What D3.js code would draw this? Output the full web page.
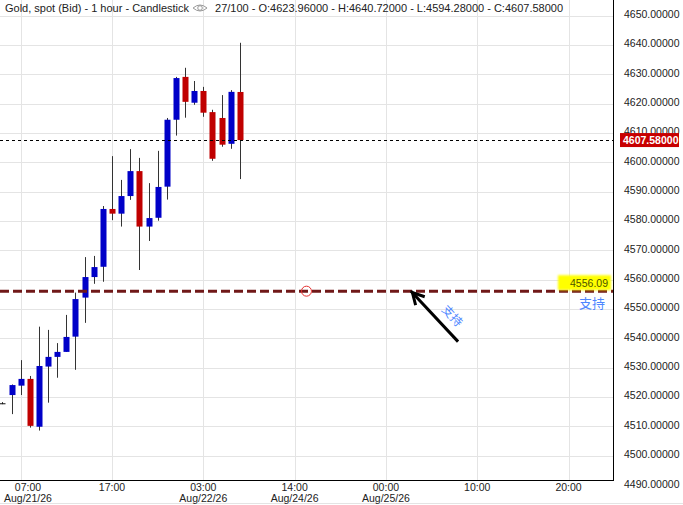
<!DOCTYPE html>
<html><head><meta charset="utf-8">
<script src="https://cdn.jsdelivr.net/npm/d3@7/dist/d3.min.js"></script>
<style>body{margin:0;background:#fff;}svg{display:block;font-family:Arial,"Liberation Sans",sans-serif;}</style>
</head><body><svg id="c" width="683" height="505"></svg>
<script>
// ---- data ----
const barIndex = [-2,-1,0,1,2,3,4,5,6,7,8,9,10,11,12,13,14,15,16,17,18,19,20,21,22,23,24];
const opens  = [4517.9,4520.7,4523.9,4526.2,4509.9,4530.4,4533.7,4535.4,4540.6,4553.9,4560.9,4564.4,4584.1,4582.5,4588.5,4597.0,4578.1,4581.1,4591.7,4614.5,4629.1,4620.3,4624.3,4617.1,4615.1,4606.3,4623.96];
const highs  = [4518.3,4524.3,4532.6,4527.2,4544.0,4542.9,4538.4,4548.0,4555.6,4567.7,4568.1,4585.1,4602.1,4594.0,4604.5,4601.5,4592.9,4603.9,4615.1,4629.1,4632.2,4627.7,4625.7,4617.9,4622.9,4624.6,4640.72];
const lows   = [4517.6,4514.2,4520.7,4509.6,4508.6,4518.1,4526.6,4535.4,4529.3,4545.3,4558.6,4559.3,4580.3,4578.1,4587.2,4563.3,4573.2,4580.1,4587.3,4609.1,4615.2,4619.6,4615.5,4600.5,4605.3,4604.6,4594.28];
const closes = [4517.9,4524.1,4526.2,4510.2,4530.6,4533.7,4535.4,4540.5,4553.4,4560.9,4564.3,4584.1,4582.5,4588.5,4597.0,4578.1,4581.0,4591.6,4614.5,4628.7,4620.6,4624.3,4616.9,4601.2,4606.0,4624.0,4607.58];
const tickIdx   = [0,10,20,30,40,50,60];
const tickTime  = ["07:00","17:00","03:00","14:00","00:00","10:00","20:00"];
const tickDate  = ["Aug/21/26","","Aug/22/26","Aug/24/26","Aug/25/26","",""];
const yTicks = [4490,4500,4510,4520,4530,4540,4550,4560,4570,4580,4590,4600,4610,4620,4630,4640,4650];
const lastPrice = 4607.58;
const supportPrice = 4556.09;
const supportLabel = "4556.09";
const supportText = "支持";
const headerLeft = "Gold, spot (Bid) - 1 hour - Candlestick";
const headerRight = "27/100 - O:4623.96000 - H:4640.72000 - L:4594.28000 - C:4607.58000";
const circleIdx = 31.3;
const arrowFrom = {i: 47.9, v: 4538.9};
const arrowTo   = {i: 42.9, v: 4555.6};

// ---- layout ----
const plotW = 613, plotH = 480.5;
const svg = d3.select("#c");
const x = d3.scaleLinear().domain([-2.267, 64.87]).range([0, plotW]);
const y = d3.scaleLinear().domain([4490, 4650]).range([485.15, 15.55]);

// gridlines
const grid = svg.append("g");
grid.selectAll("line.h").data(yTicks.filter(v => y(v) < plotH)).join("line")
  .attr("x1", 0).attr("x2", plotW).attr("y1", d => Math.round(y(d)) + 0.5).attr("y2", d => Math.round(y(d)) + 0.5)
  .attr("stroke", "#e4e4e4").attr("stroke-width", 1);
grid.selectAll("line.v").data(tickIdx).join("line")
  .attr("x1", d => Math.round(x(d)) + 0.5).attr("x2", d => Math.round(x(d)) + 0.5).attr("y1", 0).attr("y2", plotH)
  .attr("stroke", "#e4e4e4").attr("stroke-width", 1);

// clip
svg.append("clipPath").attr("id", "clip").append("rect").attr("x", 0).attr("y", 0).attr("width", plotW).attr("height", plotH);
const plot = svg.append("g").attr("clip-path", "url(#clip)");

// candles
const candles = barIndex.map((b, k) => ({b, o: opens[k], h: highs[k], l: lows[k], c: closes[k]}));
const bw = 6;
const cg = plot.append("g");
cg.selectAll("line.wick").data(candles).join("line")
  .attr("x1", d => Math.round(x(d.b)) + 0.5).attr("x2", d => Math.round(x(d.b)) + 0.5)
  .attr("y1", d => y(d.h)).attr("y2", d => y(d.l))
  .attr("stroke", "#333").attr("stroke-width", 1);
cg.selectAll("rect.body").data(candles).join("rect")
  .attr("x", d => Math.round(x(d.b)) + 0.5 - bw / 2)
  .attr("width", bw)
  .attr("y", d => y(Math.max(d.o, d.c)))
  .attr("height", d => Math.max(1, Math.abs(y(d.o) - y(d.c))))
  .attr("fill", d => d.c > d.o ? "#0000c8" : (d.c < d.o ? "#c00000" : "#111"));

// last price dotted line
plot.append("line").attr("x1", 0).attr("x2", plotW)
  .attr("y1", Math.round(y(lastPrice)) + 0.5).attr("y2", Math.round(y(lastPrice)) + 0.5)
  .attr("stroke", "#000").attr("stroke-width", 1).attr("stroke-dasharray", "3,3");

// support line
plot.append("line").attr("x1", 0).attr("x2", plotW)
  .attr("y1", y(supportPrice)).attr("y2", y(supportPrice))
  .attr("stroke", "#701818").attr("stroke-width", 3).attr("stroke-dasharray", "9,4");

// circle marker
plot.append("circle").attr("cx", x(circleIdx)).attr("cy", y(supportPrice)).attr("r", 5)
  .attr("fill", "none").attr("stroke", "#e53030").attr("stroke-width", 1);

// arrow
const ax1 = x(arrowFrom.i), ay1 = y(arrowFrom.v), ax2 = x(arrowTo.i), ay2 = y(arrowTo.v);
const ang = Math.atan2(ay2 - ay1, ax2 - ax1);
const hl = 13, ha = 0.5;
plot.append("line").attr("x1", ax1).attr("y1", ay1).attr("x2", ax2 + 2*Math.cos(ang)).attr("y2", ay2 + 2*Math.sin(ang))
  .attr("stroke", "#000").attr("stroke-width", 3);
plot.append("path")
  .attr("d", `M${ax2 - hl*Math.cos(ang - ha)},${ay2 - hl*Math.sin(ang - ha)} L${ax2},${ay2} L${ax2 - hl*Math.cos(ang + ha)},${ay2 - hl*Math.sin(ang + ha)}`)
  .attr("fill", "none").attr("stroke", "#000").attr("stroke-width", 3).attr("stroke-linejoin", "miter");
const deg = Math.atan2(ay1 - ay2, ax1 - ax2) * 180 / Math.PI;
const tx = (ax1 + ax2) / 2 + 18, ty = (ay1 + ay2) / 2 - 2;
svg.append("text").attr("x", tx).attr("y", ty).attr("text-anchor", "middle").attr("dominant-baseline", "central")
  .attr("transform", `rotate(${deg},${tx},${ty})`)
  .attr("font-family", "'Noto Sans CJK SC',sans-serif").attr("font-size", 12).attr("fill", "#4d86ff").text(supportText);

// axis lines
svg.append("line").attr("x1", 613.5).attr("x2", 613.5).attr("y1", 0).attr("y2", 481).attr("stroke", "#000").attr("stroke-width", 1);
svg.append("line").attr("x1", 0).attr("x2", 614).attr("y1", 480.5).attr("y2", 480.5).attr("stroke", "#000").attr("stroke-width", 1);
svg.append("line").attr("x1", 0).attr("x2", 683).attr("y1", 503.5).attr("y2", 503.5).attr("stroke", "#e4e4e4").attr("stroke-width", 1);

// y axis labels
const yAxis = d3.axisRight(y).tickValues(yTicks).tickSize(0).tickPadding(0).tickFormat(d3.format(".5f"));
const ya = svg.append("g").attr("transform", "translate(624,-1.5)").call(yAxis);
ya.select(".domain").remove();
ya.selectAll("text").attr("font-size", 10.5).attr("font-family", "Arial,'Liberation Sans',sans-serif").attr("fill", "#222").attr("x", 0);

// last price label
const lpY = y(lastPrice);
svg.append("rect").attr("x", 620).attr("y", lpY - 7).attr("width", 59).attr("height", 14).attr("fill", "#c80000");
svg.append("text").attr("x", 623).attr("y", lpY + 4).attr("font-size", 10.5).attr("font-weight", "bold").attr("fill", "#fff").text(lastPrice.toFixed(5));

// support label
const spY = y(supportPrice);
svg.append("defs").append("filter").attr("id", "blur").append("feGaussianBlur").attr("stdDeviation", 1);
svg.append("rect").attr("x", 558).attr("y", spY - 16).attr("width", 53).attr("height", 15).attr("fill", "#ffff00").attr("filter", "url(#blur)");
svg.append("text").attr("x", 608).attr("y", spY - 4.5).attr("text-anchor", "end").attr("font-size", 10.5).attr("fill", "#4d5200").text(supportLabel);
svg.append("text").attr("x", 592).attr("y", spY + 17).attr("text-anchor", "middle")
  .attr("font-family", "'Noto Sans CJK SC',sans-serif").attr("font-size", 13).attr("fill", "#4d86ff").text(supportText);

// x axis labels
const xl = svg.append("g");
tickIdx.forEach((t, k) => {
  const g = xl.append("g");
  const tt = g.append("text").attr("y", 490.5).attr("text-anchor", "middle").attr("font-size", 10.5).attr("fill", "#222").text(tickTime[k]);
  const dt = g.append("text").attr("y", 501.5).attr("text-anchor", "middle").attr("font-size", 10.5).attr("fill", "#222").text(tickDate[k]);
  const w = Math.max(tt.node().getComputedTextLength(), dt.node().getComputedTextLength());
  const cx = Math.max(x(t), 4 + w / 2);
  tt.attr("x", cx); dt.attr("x", cx);
});

// header
const hl1 = svg.append("text").attr("x", 5).attr("y", 12).attr("font-size", 11).attr("fill", "#222").text(headerLeft);
const e = hl1.node().getComputedTextLength() + 5;
const eye = svg.append("g").attr("transform", `translate(${e + 11},8)`);
eye.append("path").attr("d", "M-7,0 Q0,-6 7,0 Q0,6 -7,0 Z").attr("fill", "none").attr("stroke", "#999").attr("stroke-width", 1);
eye.append("circle").attr("r", 2.3).attr("fill", "none").attr("stroke", "#999").attr("stroke-width", 1);
svg.append("text").attr("x", e + 26).attr("y", 12).attr("font-size", 11).attr("fill", "#222").text(headerRight);
</script></body></html>
